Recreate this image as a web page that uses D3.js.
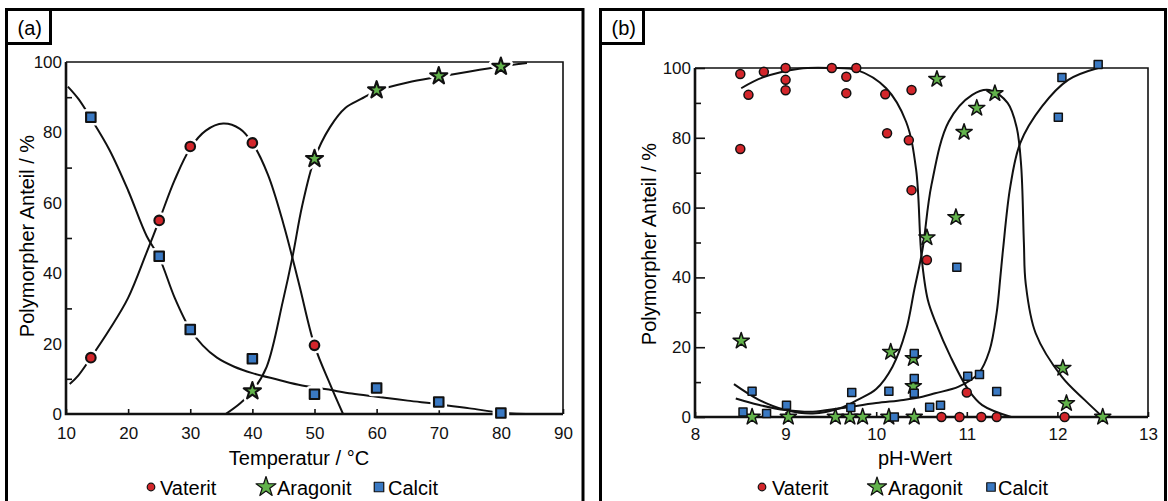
<!DOCTYPE html>
<html>
<head>
<meta charset="utf-8">
<script src="https://cdn.jsdelivr.net/npm/d3@7"></script>
<style>
  body { margin: 0; background: #fff; }
  svg { display: block; font-family: Arial, "Liberation Sans", sans-serif; }
</style>
</head>
<body>
<svg id="chart" width="1168" height="501"></svg>
<script>
// ---- data ----
const tempTicks = [10, 20, 30, 40, 50, 60, 70, 80, 90];
const phTicks = [8, 9, 10, 11, 12, 13];
const percentTicks = [0, 20, 40, 60, 80, 100];
const percentMinor = [10, 30, 50, 70, 90];
const seriesNames = ["Vaterit", "Aragonit", "Calcit"];

// panel (a): temperature
const vateritA = [[14, 16], [25, 55], [30, 76], [40, 77], [50, 19.5]];
const aragonitA = [[40, 6.5], [50, 72.5], [60, 92], [70, 96], [80, 98.7]];
const calcitA = [[14, 84.3], [25, 44.8], [30, 24], [40, 15.7], [50, 5.6], [60, 7.4], [70, 3.4], [80, 0.3]];

const vateritCurveA = [[10.6, 8.5], [12, 11], [14, 16], [17, 24], [20, 33], [23, 46], [25, 55], [27.5, 66.5],
  [30, 75.5], [32.5, 80.5], [35.3, 82.5], [38, 81], [40, 77], [42.5, 68], [45, 54], [47.5, 37], [50, 19.5],
  [52.5, 8.5], [54.6, 0]];
const aragonitCurveA = [[35.7, 0], [38, 3], [40, 6.5], [42.3, 13.4], [44.9, 32], [46.5, 45], [48, 59],
  [50, 72.5], [52.5, 81.5], [55, 87], [57.5, 89.5], [60, 91.8], [65, 94.2], [70, 95.8], [75, 97.3],
  [80, 98.7], [84.2, 99.7]];
const calcitCurveA = [[10.3, 93], [12, 89.5], [14, 84], [17, 75], [20, 63.5], [23, 50.5], [25, 44.5],
  [27.5, 33], [30, 24], [32, 19.5], [34.3, 16], [37, 13.5], [40, 11.6], [44, 9.8], [48, 8.1], [52, 7],
  [56, 5.8], [60, 4.9], [65, 3.8], [70, 2.8], [75, 1.6], [80, 0.4], [84, 0]];

// panel (b): pH
const vateritB = [[8.5, 98.3], [8.59, 92.3], [8.5, 76.8], [8.76, 98.9], [9.0, 100], [9.0, 96.6], [9.0, 93.6],
  [9.51, 100], [9.67, 97.5], [9.67, 92.8], [9.78, 100], [10.1, 92.5], [10.12, 81.3], [10.39, 93.7],
  [10.36, 79.3], [10.39, 65], [10.56, 45], [11.0, 7], [10.72, 0], [10.92, 0], [11.16, 0], [11.33, 0],
  [12.08, 0]];
const aragonitB = [[8.51, 21.8], [8.63, 0], [9.03, 0], [9.55, 0], [9.71, 0], [9.85, 0], [10.14, 0],
  [10.42, 0], [10.16, 18.6], [10.41, 16.8], [10.41, 8.8], [10.56, 51.4], [10.88, 57.2], [10.67, 96.8],
  [10.97, 81.6], [11.11, 88.5], [11.31, 92.7], [12.06, 14], [12.1, 3.9], [12.5, 0]];
const calcitB = [[8.53, 1.4], [8.63, 7.4], [8.79, 1], [9.01, 3.4], [9.73, 7], [9.72, 2.7], [10.14, 7.4],
  [10.2, 0], [10.42, 18.2], [10.42, 11], [10.42, 6.8], [10.59, 2.8], [10.71, 3.4], [11.01, 11.7],
  [11.14, 12.2], [11.33, 7.3], [10.89, 42.9], [12.05, 97.3], [12.01, 85.9], [12.45, 101]];

const vateritCurveB = [[8.51, 94.2], [8.75, 97.3], [9.15, 99.8], [9.5, 100], [9.79, 99.4], [10.11, 94.2],
  [10.33, 84.6], [10.44, 71], [10.5, 46], [10.57, 33.5], [10.66, 26.8], [10.82, 17.3], [11.02, 7.7],
  [11.17, 3.4], [11.49, 0]];
const aragonitCurveB = [[8.43, 9.4], [8.7, 5], [9.0, 2], [9.3, 1], [9.6, 2.5], [9.8, 5], [10.0, 8],
  [10.18, 14.4], [10.33, 24.9], [10.42, 36.4], [10.51, 47.8], [10.61, 66.5], [10.8, 84.6], [11.06, 92.3],
  [11.25, 93.7], [11.45, 90], [11.55, 83], [11.6, 72], [11.63, 50], [11.65, 38.3], [11.76, 24],
  [12.05, 11.5], [12.3, 4.9], [12.5, 0]];
const calcitCurveB = [[8.45, 5.3], [8.7, 3.5], [9.0, 2], [9.3, 1.5], [9.6, 2.5], [10.0, 4], [10.3, 4.9],
  [10.51, 5.8], [10.65, 6.8], [10.91, 8.7], [11.13, 12.5], [11.25, 19], [11.33, 30], [11.37, 40],
  [11.4, 48], [11.48, 66], [11.59, 78.5], [11.83, 89], [12.12, 96.6], [12.45, 100]];

const colors = { Vaterit: "#d3262b", Aragonit: "#62b34b", Calcit: "#3a79c3" };

const svg = d3.select("#chart");
const ka = 0.8908130915292852;

function markerPath(type, s) {
    if (type === "Aragonit") return d3.symbol(d3.symbolStar, s * s / ka)();
    if (type === "Calcit") return d3.symbol(d3.symbolSquare, s * s)();
    return null;
}

function drawMarker(g, type, cx, cy, s, sw, halo) {
    const layers = halo ? [["#fff", sw + 5], [null, sw]] : [[null, sw]];
    layers.forEach(([haloColor, w]) => {
        let m;
        if (type === "Vaterit") {
            m = g.append("circle").attr("cx", cx).attr("cy", cy).attr("r", s);
        } else {
            m = g.append("path").attr("d", markerPath(type, s))
                .attr("transform", `translate(${cx},${cy})`)
                .attr("stroke-linejoin", "round");
        }
        m.attr("fill", haloColor || colors[type])
            .attr("stroke", haloColor || "#111")
            .attr("stroke-width", w);
    });
}

function drawPanel(p) {
    const g = svg.append("g");

    // outer frame and tag box
    g.append("rect")
        .attr("x", p.frame[0]).attr("y", p.frame[1])
        .attr("width", p.frame[2] - p.frame[0]).attr("height", 560)
        .attr("fill", "none").attr("stroke", "#000").attr("stroke-width", 3);
    g.append("rect")
        .attr("x", p.frame[0]).attr("y", p.frame[1])
        .attr("width", p.tagW).attr("height", 34)
        .attr("fill", "#fff").attr("stroke", "#000").attr("stroke-width", 3);
    g.append("text")
        .attr("x", p.frame[0] + 11).attr("y", p.frame[1] + 25)
        .style("font-size", "20px")
        .text(p.tag);

    const x = d3.scaleLinear().domain(p.xDomain).range([p.left, p.right]);
    const y = d3.scaleLinear().domain([0, 100]).range([p.bottom, p.top]);

    // curves
    const line = d3.line()
        .x(d => x(d[0]))
        .y(d => y(d[1]))
        .curve(d3.curveCatmullRom.alpha(0.5));
    p.curves.forEach(c => {
        g.append("path")
            .attr("d", line(c))
            .attr("fill", "none")
            .attr("stroke", "#111")
            .attr("stroke-width", 2);
    });

    // axes (ticks pointing inward)
    g.append("g")
        .attr("transform", `translate(${p.left},0)`)
        .call(d3.axisLeft(y).tickValues(percentTicks).tickSize(-p.yMajor).tickPadding(4));
    g.append("g")
        .attr("transform", `translate(${p.left},0)`)
        .call(d3.axisLeft(y).tickValues(percentMinor).tickSize(-6).tickFormat(""));
    g.append("g")
        .attr("transform", `translate(0,${p.bottom})`)
        .call(d3.axisBottom(x).tickValues(p.xTicks).tickSize(-5).tickPadding(p.xPad)
            .tickFormat(d3.format("d")));
    g.selectAll(".domain").remove();
    g.selectAll(".tick line").attr("stroke", "#111").attr("stroke-width", 1.6);
    g.selectAll(".tick text").style("font-size", "17px").attr("fill", "#111")
        .style("font-family", "Arial, 'Liberation Sans', sans-serif");

    // plot box
    g.append("path")
        .attr("d", `M${p.left},${p.top}H${p.right}V${p.bottom}`)
        .attr("fill", "none").attr("stroke", "#111").attr("stroke-width", 1.6);
    g.append("path")
        .attr("d", `M${p.left},${p.top}V${p.bottom}H${p.right}`)
        .attr("fill", "none").attr("stroke", "#111").attr("stroke-width", 2.6);

    // titles
    g.append("text")
        .attr("x", p.xTitleX).attr("y", 465)
        .attr("text-anchor", "middle")
        .style("font-size", "20px")
        .text(p.xTitle);
    g.append("text")
        .attr("transform", `translate(${p.yTitleX},${p.yTitleY}) rotate(-90)`)
        .attr("text-anchor", "middle")
        .style("font-size", "20px")
        .text("Polymorpher Anteil / %");

    // markers
    seriesNames.forEach(name => {
        p.series[name].forEach(d => {
            drawMarker(g, name, x(d[0]), y(d[1]), p.size[name], p.sw, p.halo);
        });
    });

    // legend
    p.legend.forEach((item, i) => {
        const name = seriesNames[i];
        drawMarker(g, name, item.mx, 487, item.s, 1.2, false);
        g.append("text")
            .attr("x", item.tx).attr("y", 495)
            .style("font-size", "20px")
            .text(name);
    });
}

drawPanel({
    frame: [6.5, 9.5, 583],
    tag: "(a)", tagW: 44,
    left: 66, right: 563, top: 62, bottom: 414,
    xDomain: [10, 90], xTicks: tempTicks, xPad: 13, yMajor: 0,
    xTitle: "Temperatur / °C", xTitleX: 299, yTitleX: 34, yTitleY: 236,
    series: { Vaterit: vateritA, Aragonit: aragonitA, Calcit: calcitA },
    curves: [vateritCurveA, aragonitCurveA, calcitCurveA],
    size: { Vaterit: 4.8, Aragonit: 9, Calcit: 9.5 }, sw: 2.1, halo: true,
    legend: [{ mx: 151, tx: 160, s: 3.8 }, { mx: 266, tx: 277, s: 10.5 }, { mx: 379, tx: 388, s: 9.5 }]
});

drawPanel({
    frame: [600.5, 9.5, 1165.5],
    tag: "(b)", tagW: 43,
    left: 695, right: 1148, top: 68, bottom: 417,
    xDomain: [8, 13], xTicks: phTicks, xPad: 11, yMajor: 10,
    xTitle: "pH-Wert", xTitleX: 915, yTitleX: 656, yTitleY: 244,
    series: { Vaterit: vateritB, Aragonit: aragonitB, Calcit: calcitB },
    curves: [vateritCurveB, aragonitCurveB, calcitCurveB],
    size: { Vaterit: 4.5, Aragonit: 8.5, Calcit: 8 }, sw: 1.5, halo: false,
    legend: [{ mx: 762, tx: 772, s: 3.8 }, { mx: 877, tx: 888, s: 10 }, { mx: 991, tx: 998, s: 8.5 }]
});
</script>
</body>
</html>
